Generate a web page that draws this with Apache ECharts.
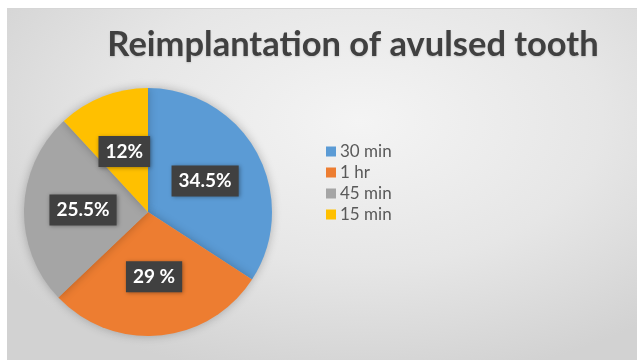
<!DOCTYPE html>
<html>
<head>
<meta charset="utf-8">
<script src="https://cdn.jsdelivr.net/npm/echarts@6/dist/echarts.min.js"></script>
<style>
  html, body { margin: 0; padding: 0; background: #ffffff; }
  #frame {
    position: absolute; left: 7px; top: 8px; width: 630px; height: 351px;
    background: radial-gradient(ellipse 70% 75% at 56% 32%, #f4f4f4 0%, #e6e6e6 55%, #d2d2d2 100%);
    border-top: 1px solid #d6d6d6;
  }
  #chart { position: absolute; left: 0; top: 0; width: 637px; height: 361px; }
</style>
</head>
<body>
<div id="frame"></div>
<div id="chart"></div>
<script>
// Time until reimplantation, share of cases
const categories = ['30 min', '1 hr', '45 min', '15 min'];
const shares = [34.5, 29, 25.5, 12];
const shareLabels = ['34.5%', '29 %', '25.5%', '12%'];
const sliceColors = ['#5b9bd5', '#ed7d31', '#a5a5a5', '#ffc000'];

const chart = echarts.init(document.getElementById('chart'), null, { renderer: 'canvas' });

chart.setOption({
  animation: false,
  color: sliceColors,
  title: {
    text: 'Reimplantation of avulsed tooth',
    left: 348,
    top: 22,
    textAlign: 'center',
    textStyle: {
      fontFamily: 'Lato',
      fontWeight: 'bold',
      fontSize: 34.5,
      color: '#404040',
      textShadowColor: 'rgba(0,0,0,0.15)',
      textShadowBlur: 2,
      textShadowOffsetY: 1
    }
  },
  legend: {
    orient: 'vertical',
    left: 321,
    top: 138,
    itemWidth: 10,
    itemHeight: 10,
    itemGap: 4,
    icon: 'rect',
    data: categories,
    textStyle: { fontFamily: 'Lato', fontSize: 17, color: '#595959', padding: [0, 0, 0, -1] }
  },
  series: [{
    type: 'pie',
    center: [148, 212],
    radius: 124,
    startAngle: 90,
    clockwise: true,
    label: {
      position: 'inside',
      formatter: p => shareLabels[p.dataIndex],
      fontFamily: 'Lato',
      fontWeight: 'bold',
      fontSize: 19,
      color: '#ffffff',
      backgroundColor: '#404040',
      padding: [6, 7, 6, 7],
      shadowColor: 'rgba(0,0,0,0.35)',
      shadowBlur: 4,
      shadowOffsetX: 1,
      shadowOffsetY: 1
    },
    labelLine: { show: false },
    itemStyle: {
      borderWidth: 0,
      shadowColor: 'rgba(0,0,0,0.25)',
      shadowBlur: 10
    },
    emphasis: { disabled: true },
    data: categories.map((c, i) => ({ name: c, value: shares[i] }))
  }]
});
</script>
</body>
</html>
